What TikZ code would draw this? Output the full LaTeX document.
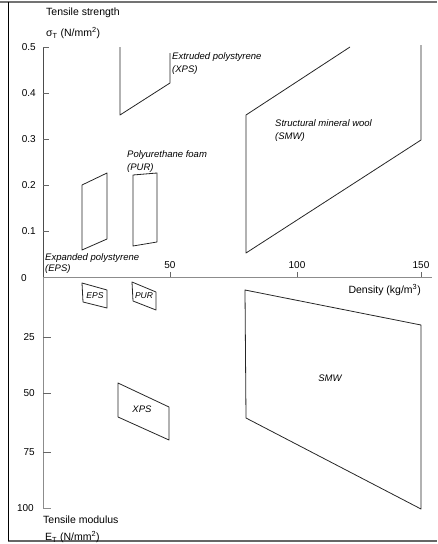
\documentclass[tikz,border=0pt]{standalone}
\usepackage{fontspec}
\setmainfont{Liberation Sans}
\begin{document}
\begin{tikzpicture}[x=1pt,y=-1pt,
  lbl/.style={inner sep=0pt,font=\fontsize{10}{12}\selectfont},
  ilbl/.style={lbl,font=\fontsize{9.5}{11}\selectfont\itshape,anchor=west},
  ticklbl/.style={lbl,anchor=east},
  region/.style={draw=black!85,line width=0.8pt,line join=round},
  axis/.style={draw=black!45,line width=0.7pt},
  tickmark/.style={draw=black!60,line width=0.7pt}]
\useasboundingbox (0,0) rectangle (437,544);
% frame
\draw[black!55,line width=1.6pt] (0,2) -- (437,2);
\draw[black!60,line width=1.4pt] (8,541) -- (437,541);
\draw[black,line width=1.3pt] (8.5,2) -- (8.5,541);
% axes
\coordinate (yt) at (43,47);
\coordinate (o) at (43,277);
\coordinate (yb) at (43,508);
\coordinate (xr) at (432,277);
\draw[axis,black!70] (yt) -- (o);
\draw[axis] (o) -- (yb) -- (51,508);
\draw[axis] (o) -- (xr);
% upper ticks
\foreach \yy/\tl in {47/0.5,93/0.4,139/0.3,185/0.2,231/0.1}{
  \draw[tickmark] (43,\yy) -- (49,\yy);
  \node[ticklbl] (t\tl) at (36,\yy) {\tl};
}
\node[ticklbl] (t0) at (27,278) {0};
% lower ticks
\foreach \yy/\tl in {337/25,393/50,452/75}{
  \draw[tickmark] (43,\yy) -- (51,\yy);
  \node[ticklbl] (b\tl) at (35,\yy) {\tl};
}
\node[ticklbl] (b100) at (34,508) {100};
% x ticks
\foreach \xx/\tl in {170/50,297/100,421/150}{
  \draw[tickmark] (\xx,277) -- (\xx,271.5);
  \node[lbl] (x\tl) at (\xx,265) {\tl};
}
% axis titles
\node[lbl,anchor=west,font=\fontsize{10.5}{12}\selectfont] (ts) at (46,13) {Tensile strength};
\node[lbl,anchor=west,font=\fontsize{10.5}{12}\selectfont] (tsu) at (46,33) {σ\textsubscript{T} (N/mm\textsuperscript{2})};
\node[lbl,anchor=east,font=\fontsize{10.5}{12}\selectfont] (dens) at (421,290) {Density (kg/m\textsuperscript{3})};
\node[lbl,anchor=west,font=\fontsize{10.5}{12}\selectfont] (tm) at (43,520) {Tensile modulus};
\node[lbl,anchor=west,font=\fontsize{10.5}{12}\selectfont] (tmu) at (45,537) {E\textsubscript{T} (N/mm\textsuperscript{2})};
% upper regions
\draw[region] (120,47) -- (120,115) -- (170,83) -- (170,53);
\draw[region] (350,47) -- (246,115) -- (246,253) -- (421,140) -- (421,45);
\draw[region] (82,185) -- (107,173) -- (107,239) -- (82,250) -- cycle;
\draw[region] (133,175) -- (157,173) -- (157,242) -- (133,246) -- cycle;
% upper labels
\node[ilbl] (xps1) at (172,57) {Extruded polystyrene};
\node[ilbl] (xps2) at (172,70) {(XPS)};
\node[ilbl] (smw1) at (275,123) {Structural mineral wool};
\node[ilbl] (smw2) at (275,137) {(SMW)};
\node[ilbl] (pur1) at (127,155) {Polyurethane foam};
\node[ilbl] (pur2) at (127,168) {(PUR)};
\node[ilbl] (eps1) at (45,258) {Expanded polystyrene};
\node[ilbl] (eps2) at (45,269) {(EPS)};
% lower regions
\draw[region] (82,283) -- (107,290) -- (107,308) -- (83,302) -- cycle;
\draw[region] (132,282) -- (156,292) -- (156,310) -- (133,301) -- cycle;
\draw[region] (118,383) -- (169,407) -- (169,440) -- (118,417) -- cycle;
\draw[region] (245,290) -- (421,325) -- (421,509) -- (246,418) -- cycle;
\node[lbl,font=\fontsize{8.5}{10}\selectfont\itshape] (epsb) at (95,296) {EPS};
\node[lbl,font=\fontsize{8.5}{10}\selectfont\itshape] (purb) at (144,296) {PUR};
\node[lbl,font=\fontsize{9.5}{11}\selectfont\itshape] (xpsb) at (142,409) {XPS};
\node[lbl,font=\fontsize{9.5}{11}\selectfont\itshape] (smwb) at (330,378) {SMW};
\end{tikzpicture}
\end{document}
